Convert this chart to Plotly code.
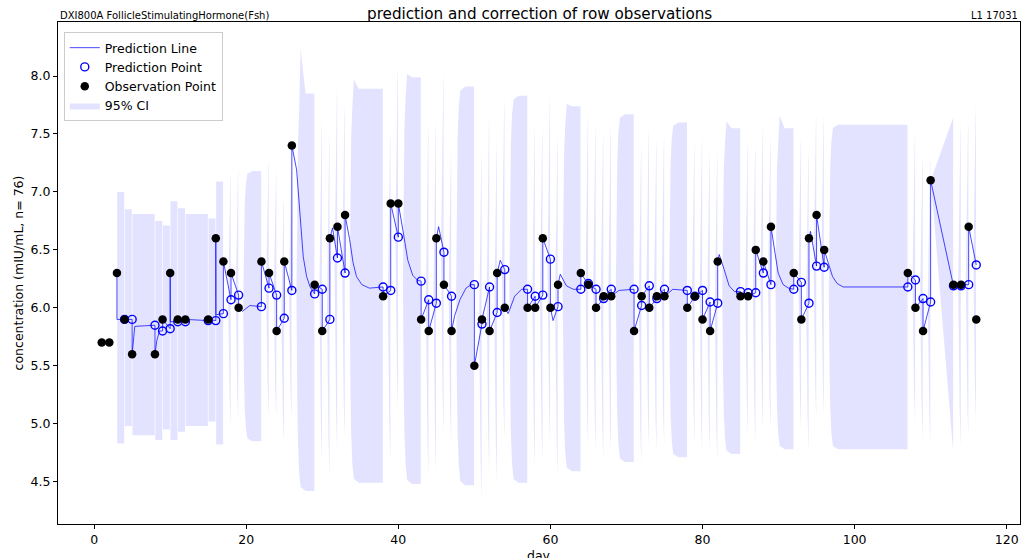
import plotly.graph_objects as go

# ---------------- data ----------------
days = [1, 2, 3, 4, 5, 8, 9, 10, 11, 12, 15, 16, 17, 18, 19, 22, 23, 24, 25, 26,
        29, 30, 31, 32, 33, 38, 39, 40, 43, 44, 45, 46, 47, 50, 51, 52, 53, 54,
        57, 58, 59, 60, 61, 64, 65, 66, 67, 68, 71, 72, 73, 74, 75, 78, 79, 80,
        81, 82, 85, 86, 87, 88, 89, 92, 93, 94, 95, 96, 107, 108, 109, 110,
        113, 114, 115, 116]

observed = [5.7, 5.7, 6.3, 5.9, 5.6, 5.6, 5.9, 6.3, 5.9, 5.9, 5.9, 6.6, 6.4, 6.3,
            6.0, 6.4, 6.3, 5.8, 6.4, 7.4, 6.2, 5.8, 6.6, 6.7, 6.8, 6.1, 6.9, 6.9,
            5.9, 5.8, 6.6, 6.2, 5.8, 5.5, 5.9, 5.8, 6.3, 6.0, 6.0, 6.0, 6.6, 6.0,
            6.2, 6.3, 6.2, 6.0, 6.1, 6.1, 5.8, 6.1, 6.0, 6.1, 6.1, 6.0, 6.1, 5.9,
            5.8, 6.4, 6.1, 6.1, 6.5, 6.4, 6.7, 6.3, 5.9, 6.6, 6.8, 6.5, 6.3, 6.0,
            5.8, 7.1, 6.2, 6.2, 6.7, 5.9]

predicted = [None, None, None, 5.9, 5.9, 5.85, 5.80, 5.82, 5.88, 5.88, 5.89, 5.89,
             5.95, 6.07, 6.11, 6.01, 6.17, 6.11, 5.91, 6.15, 6.12, 6.16, 5.90, 6.43,
             6.30, 6.18, 6.15, 6.61, 6.23, 6.07, 6.04, 6.48, 6.10, 6.20, 5.86, 6.18,
             5.96, 6.33, 6.16, 6.10, 6.11, 6.42, 6.01, 6.16, 6.21, 6.16, 6.08, 6.16,
             6.16, 6.02, 6.19, 6.08, 6.16, 6.15, 6.10, 6.15, 6.05, 6.04, 6.14, 6.13,
             6.13, 6.30, 6.20, 6.16, 6.22, 6.04, 6.36, 6.35, 6.18, 6.24, 6.08, 6.05,
             6.19, 6.19, 6.20, 6.37]

# extra points of the prediction curve between observations
curve_x = [3.0, 5.35, 8.25, 8.6, 10.02, 16.02, 19.5, 20.5,
           26.63, 27.06, 27.5, 27.94, 28.4, 31.35,
           33.6, 34.05, 34.5, 35.2, 36.2,
           40.6, 41.25, 41.9, 42.5, 45.3,
           47.4, 48.1, 48.9, 49.6, 53.4, 54.45, 55.3, 56.2, 60.35,
           61.3, 62.1, 63.0, 69.0, 76.1,
           82.2, 82.85, 83.5, 84.2,
           89.5, 89.95, 90.6, 91.3, 94.2,
           96.5, 97.1, 97.7, 98.5]
curve_y = [5.9, 5.84, 5.72, 5.80, 5.88, 5.94, 5.97, 6.02,
           7.19, 6.82, 6.44, 6.27, 6.18, 6.69,
           6.59, 6.39, 6.27, 6.20, 6.17,
           6.67, 6.41, 6.28, 6.24, 6.70,
           5.93, 6.07, 6.17, 6.20, 6.41, 5.95, 6.10, 6.16, 5.89,
           6.29, 6.19, 6.16, 6.15, 6.16,
           6.46, 6.33, 6.19, 6.14,
           6.47, 6.30, 6.20, 6.17, 6.66,
           6.39, 6.27, 6.21, 6.18]

# 95% CI band: one value pair per interval starting at that observation day
band_start = [3, 4, 5, 8, 9, 10, 11, 12, 15, 16, 17, 18, 19, 22, 23, 24, 25, 26,
              29, 30, 31, 32, 33, 38, 39, 40, 43, 44, 45, 46, 47, 50, 51, 52, 53,
              54, 57, 58, 59, 60, 61, 64, 65, 66, 67, 68, 71, 72, 73, 74, 75, 78,
              79, 80, 81, 82, 85, 86, 87, 88, 89, 92, 93, 94, 95, 96, 107, 108,
              109, 110, 113, 114, 115]
band_upper = [7.00, 6.85, 6.81, 6.75, 6.71, 6.92, 6.86, 6.81, 6.77, 7.09, 7.18,
              7.21, 7.18, 7.28, 7.18, 6.96, 7.25, 7.85, 7.61, 7.50, 7.91, 7.76,
              7.89, 7.53, 8.10, 7.99, 7.59, 7.62, 8.04, 7.36, 7.91, 7.35, 7.66,
              7.43, 7.81, 7.83, 7.58, 7.56, 7.85, 7.48, 7.74, 7.68, 7.59, 7.52,
              7.58, 7.67, 7.41, 7.55, 7.46, 7.50, 7.60, 7.43, 7.47, 7.35, 7.35,
              7.55, 7.43, 7.42, 7.58, 7.48, 7.55, 7.49, 7.35, 7.66, 7.66, 7.58,
              7.50, 7.32, 7.32, 7.64, 7.60, 7.61, 7.74]
band_lower = [4.83, 4.98, 4.90, 4.86, 4.95, 4.86, 4.93, 4.98, 5.02, 4.82, 4.98,
              5.02, 4.85, 5.06, 5.06, 4.85, 5.05, 4.42, 4.67, 4.53, 4.76, 4.88,
              4.49, 4.67, 5.12, 4.48, 4.55, 4.59, 4.91, 4.84, 4.47, 4.34, 4.57,
              4.50, 4.86, 4.49, 4.62, 4.67, 4.83, 4.55, 4.59, 4.80, 4.75, 4.69,
              4.75, 4.67, 4.65, 4.80, 4.76, 4.82, 4.71, 4.83, 4.75, 4.76, 4.67,
              4.74, 4.92, 4.85, 4.95, 4.95, 4.78, 4.95, 4.76, 5.05, 5.08, 4.78,
              5.00, 4.86, 4.82, 4.76, 4.80, 4.89, 5.03]
band_peak = {26: 8.24, 33: 7.97, 40: 8.02, 61: 7.76, 82: 7.61, 89: 7.66}

x_ticks = [0, 20, 40, 60, 80, 100, 120]
y_ticks = [4.5, 5.0, 5.5, 6.0, 6.5, 7.0, 7.5, 8.0]

# ---------------- prediction line ----------------
n = len(days)
line_x, line_y = [], []
for i in range(2, n):
    if predicted[i] is not None:
        line_x.append(days[i]); line_y.append(predicted[i])
    if i < n - 1:
        line_x.append(days[i]); line_y.append(observed[i])
        nxt = days[i + 1]
        pts = sorted([(cx, cy) for cx, cy in zip(curve_x, curve_y) if days[i] <= cx < nxt])
        for cx, cy in pts:
            line_x.append(cx); line_y.append(cy)

# ---------------- CI band polygons ----------------
bx, by = [], []
for k, d0 in enumerate(band_start):
    d1 = days[days.index(d0) + 1]
    g = d1 - d0
    top, bot = band_upper[k], band_lower[k]
    mid = (top + bot) / 2
    if d0 <= 16:
        xs = [d0 + 0.04, d1 - 0.04]
        up = [top, top]
        lo = [bot, bot]
    elif d0 == 110:
        obs_v = observed[days.index(d0)]
        xs = [d0 + 0.02, d1 - 0.04]
        up = [obs_v, top]
        lo = [obs_v, bot]
    elif g == 1:
        taus = [0.62, 0.72, 0.82, 0.90, 0.96]
        fr = [0.0, 0.5, 0.78, 0.92, 1.0]
        xs = [d0 + t for t in taus]
        up = [mid + f * (top - mid) for f in fr]
        lo = [mid - f * (mid - bot) for f in fr]
    else:
        taus = [0.6, 0.7, 0.8, 0.95, 1.15, 1.8, g - 0.04]
        fr = [0.0, 0.5, 0.75, 0.9, 0.98, 1.0, 1.0]
        xs = [d0 + t for t in taus]
        up = [mid + f * (top - mid) for f in fr]
        lo = [mid - f * (mid - bot) for f in fr]
        if d0 in band_peak:
            up[4] = band_peak[d0]
    bx += xs + xs[::-1] + [None]
    by += up + lo[::-1] + [None]

pred_x = [d for d, p in zip(days, predicted) if p is not None]
pred_y = [p for p in predicted if p is not None]

FONT = "DejaVu Sans"
fig = go.Figure()
fig.add_trace(go.Scatter(
    x=bx, y=by, mode="lines", fill="toself", fillcolor="rgba(0,0,255,0.11)",
    line=dict(width=0, color="rgba(0,0,255,0)"), name="95% CI",
    legendrank=4, hoverinfo="skip"))
fig.add_trace(go.Scatter(
    x=line_x, y=line_y, mode="lines", name="Prediction Line",
    line=dict(color="rgba(0,0,255,0.8)", width=0.9), legendrank=1))
fig.add_trace(go.Scatter(
    x=pred_x, y=pred_y, mode="markers", name="Prediction Point",
    marker=dict(symbol="circle-open", color="blue", size=8, line=dict(width=1.4)),
    legendrank=2))
fig.add_trace(go.Scatter(
    x=days, y=observed, mode="markers", name="Observation Point",
    marker=dict(symbol="circle", color="black", size=8.5), legendrank=3))

axis_common = dict(showline=True, mirror=True, linecolor="black", linewidth=1,
                   ticks="outside", ticklen=4, tickcolor="black", showgrid=False,
                   zeroline=False, tickfont=dict(family=FONT, size=12.5, color="black"))
fig.update_xaxes(range=[-4.75, 121.75], tickvals=x_ticks,
                 ticktext=[str(v) for v in x_ticks],
                 automargin=False, **axis_common)
fig.update_yaxes(range=[4.135, 8.466], tickvals=y_ticks,
                 ticktext=[f"{v:.1f}" for v in y_ticks],
                 title=dict(text="concentration (mIU/mL, n= 76)",
                            font=dict(family=FONT, size=12.5, color="black"), standoff=4),
                 automargin=False, **axis_common)

fig.update_layout(
    width=1021, height=558,
    margin=dict(l=58, r=1, t=22, b=34),
    paper_bgcolor="white", plot_bgcolor="white",
    font=dict(family=FONT, color="black"),
    showlegend=True,
    legend=dict(x=0.006, y=0.98, xanchor="left", yanchor="top",
                bgcolor="rgba(255,255,255,0.85)", bordercolor="#cccccc", borderwidth=1,
                font=dict(family=FONT, size=12.5, color="black"),
                tracegroupgap=0, itemwidth=30),
    annotations=[
        dict(text="prediction and correction of row observations", x=0.5, y=1,
             xref="paper", yref="paper", xanchor="center", yanchor="bottom",
             showarrow=False, yshift=-3, font=dict(family=FONT, size=15.2, color="black")),
        dict(text="DXI800A FollicleStimulatingHormone(Fsh)", x=0, y=1,
             xref="paper", yref="paper", xanchor="left", yanchor="bottom",
             showarrow=False, yshift=-1, font=dict(family=FONT, size=10, color="black")),
        dict(text="L1 17031", x=1, y=1, xref="paper", yref="paper",
             xanchor="right", yanchor="bottom", showarrow=False, yshift=-1,
             font=dict(family=FONT, size=10, color="black")),
        dict(text="day", x=0.5, y=0, xref="paper", yref="paper",
             xanchor="center", yanchor="top", showarrow=False, yshift=-22,
             font=dict(family=FONT, size=12.5, color="black")),
    ],
)

fig.write_html("out.html", config={"displayModeBar": False},
               post_script="document.body.style.margin='0';document.body.style.padding='0';")
